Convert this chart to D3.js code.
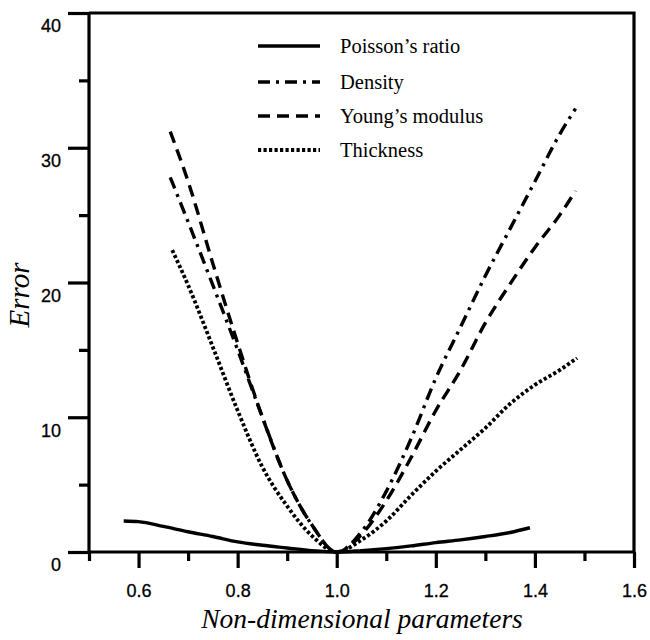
<!DOCTYPE html>
<html>
<head>
<meta charset="utf-8">
<script src="https://cdn.jsdelivr.net/npm/d3@7"></script>
<style>
  body { margin: 0; background: #fff; }
  .tick text { font-family: "Liberation Sans", Arial, sans-serif; font-size: 18px; fill: #000; stroke: #000; stroke-width: 0.3px; }
</style>
</head>
<body>
<script>
// Datos
const poissonX = [0.57, 0.6, 0.65, 0.7, 0.75, 0.8, 0.85, 0.9, 0.95, 1.0, 1.05, 1.1, 1.15, 1.2, 1.25, 1.3, 1.35, 1.39];
const poissonY = [2.3, 2.25, 1.9, 1.5, 1.15, 0.75, 0.5, 0.3, 0.1, 0, 0.1, 0.25, 0.45, 0.7, 0.9, 1.15, 1.45, 1.8];

const densityX = [0.664, 0.7, 0.75, 0.8, 0.85, 0.9, 0.95, 1.0, 1.05, 1.1, 1.15, 1.2, 1.25, 1.3, 1.35, 1.4, 1.45, 1.482];
const densityY = [27.8, 24.5, 19.8, 15, 10, 5.3, 2, 0, 1.5, 4.5, 8.4, 12.9, 16.7, 20.5, 24, 27.5, 31, 32.9];

const youngX = [0.664, 0.7, 0.75, 0.8, 0.85, 0.9, 0.95, 1.0, 1.05, 1.1, 1.15, 1.2, 1.25, 1.3, 1.35, 1.4, 1.45, 1.482];
const youngY = [31.2, 27.5, 21.4, 15.5, 10, 5.3, 2.0, 0, 1.3, 3.8, 7.0, 10.5, 13.5, 17, 19.9, 22.6, 25, 26.8];

const thickX = [0.668, 0.7, 0.75, 0.8, 0.85, 0.9, 0.95, 1.0, 1.05, 1.1, 1.15, 1.2, 1.25, 1.3, 1.35, 1.4, 1.45, 1.485];
const thickY = [22.4, 19.8, 15.2, 10.5, 6.3, 3.4, 1.2, 0, 0.9, 2.3, 4.2, 6.0, 7.6, 9.2, 11.0, 12.4, 13.5, 14.4];

const xMajor = [0.6, 0.8, 1.0, 1.2, 1.4, 1.6];
const xMinor = [0.5, 0.7, 0.9, 1.1, 1.3, 1.5];
const yMajor = [0, 10, 20, 30, 40];
const yMinor = [5, 15, 25, 35];

const series = [
  { name: "Poisson\u2019s ratio", xs: poissonX, ys: poissonY, dash: null, ancho: 3.4 },
  { name: "Density", xs: densityX, ys: densityY, dash: "12,6,3,6", ancho: 3.4 },
  { name: "Young\u2019s modulus", xs: youngX, ys: youngY, dash: "12,7", ancho: 3.4 },
  { name: "Thickness", xs: thickX, ys: thickY, dash: "3.2,2.3", ancho: 3.8 },
];

const svg = d3.select("body")
  .append("svg")
  .attr("width", 650)
  .attr("height", 640);

const x = d3.scaleLinear().domain([0.5, 1.6]).range([89, 634]);
const y = d3.scaleLinear().domain([0, 40]).range([552, 13]);

// Ejes
function estiloEje(g) {
  g.select(".domain").attr("stroke-width", 3.2);
  g.selectAll(".tick line").attr("stroke-width", 3.2);
}

svg.append("g")
  .attr("transform", "translate(0,552)")
  .call(d3.axisBottom(x).tickValues(xMinor).tickSize(9).tickFormat(""))
  .call(estiloEje)
  .call(g => g.select(".domain").remove());

svg.append("g")
  .attr("transform", "translate(0,552)")
  .call(d3.axisBottom(x).tickValues(xMajor).tickSize(16).tickSizeOuter(0).tickPadding(16).tickFormat(d3.format(".1f")))
  .call(estiloEje)
  .call(g => g.select(".domain").attr("d", "M89,0H634"));

svg.append("g")
  .attr("transform", "translate(89,0)")
  .call(d3.axisLeft(y).tickValues(yMinor).tickSize(10).tickFormat(""))
  .call(estiloEje)
  .call(g => g.select(".domain").remove());

svg.append("g")
  .attr("transform", "translate(89,0)")
  .call(d3.axisLeft(y).tickValues(yMajor).tickSize(21).tickSizeOuter(0).tickPadding(7))
  .call(estiloEje)
  .call(g => g.select(".domain").attr("d", "M0,552V13"))
  .call(g => g.selectAll(".tick text").attr("dy", "1.05em"));

// Marco superior y derecho
svg.append("path")
  .attr("d", `M${x(0.5)},${y(40)}H${x(1.6)}V${y(0)}`)
  .attr("fill", "none")
  .attr("stroke", "#000")
  .attr("stroke-width", 3.2);

// Curvas
const linea = d3.line()
  .x(d => x(d[0]))
  .y(d => y(d[1]))
  .curve(d3.curveMonotoneX);

svg.selectAll("path.curva")
  .data(series)
  .join("path")
  .attr("class", "curva")
  .attr("d", d => linea(d.xs.map((v, i) => [v, d.ys[i]])))
  .attr("fill", "none")
  .attr("stroke", "#000")
  .attr("stroke-width", d => d.ancho)
  .attr("stroke-dasharray", d => d.dash);

// Leyenda
const filasLeyenda = [46, 82, 116, 150];
const leyenda = svg.append("g");
const item = leyenda.selectAll("g")
  .data(series)
  .join("g")
  .attr("transform", (d, i) => `translate(0,${filasLeyenda[i]})`);

item.append("line")
  .attr("x1", 258).attr("x2", 320)
  .attr("stroke", "#000")
  .attr("stroke-width", d => d.ancho)
  .attr("stroke-dasharray", d => d.dash);

item.append("text")
  .attr("x", 340)
  .attr("y", 7)
  .attr("font-family", "Liberation Serif, Times New Roman, serif")
  .attr("font-size", 20.5)
  .text(d => d.name);

// Títulos de ejes
svg.append("text")
  .attr("x", 362)
  .attr("y", 628)
  .attr("text-anchor", "middle")
  .attr("font-family", "Liberation Serif, Times New Roman, serif")
  .attr("font-style", "italic")
  .attr("font-size", 27.5)
  .text("Non-dimensional parameters");

svg.append("text")
  .attr("transform", "translate(29,295) rotate(-90)")
  .attr("text-anchor", "middle")
  .attr("font-family", "Liberation Serif, Times New Roman, serif")
  .attr("font-style", "italic")
  .attr("font-size", 29)
  .text("Error");
</script>
</body>
</html>
